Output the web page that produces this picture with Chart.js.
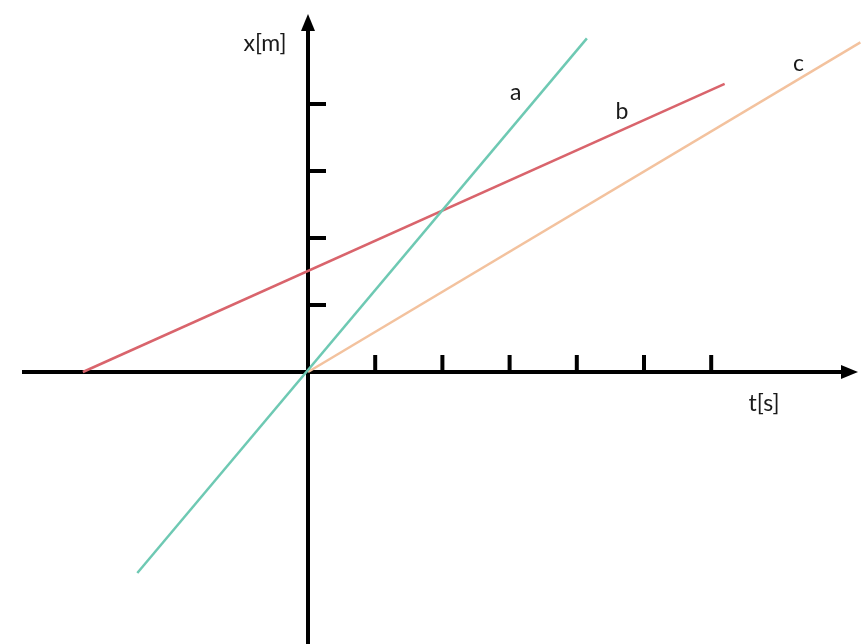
<!DOCTYPE html>
<html>
<head>
<meta charset="utf-8">
<script src="https://cdn.jsdelivr.net/npm/chart.js@4/dist/chart.umd.min.js"></script>
<style>
  html, body { margin: 0; padding: 0; background: #fff; }
  #wrap { width: 861px; height: 644px; position: relative; }
</style>
</head>
<body>
<div id="wrap"><canvas id="motionChart"></canvas></div>
<script>
// line end points, [t, x]
const lineA = [[-2.54, -3.0], [4.15, 4.98]];
const lineB = [[-3.35, 0], [6.2, 4.3]];
const lineC = [[0, 0], [8.22, 4.92]];

const tTicks = [1, 2, 3, 4, 5, 6];
const xTicks = [1, 2, 3, 4];

const lineNames = ['a', 'b', 'c'];
const nameSpots = [[3.09, 4.17], [4.67, 3.89], [7.3, 4.61]];

const toPoints = arr => arr.map(p => ({ x: p[0], y: p[1] }));

const labelFont = '23px Lato, "Open Sans", sans-serif';

const axesPlugin = {
  id: 'axesPlugin',
  beforeDatasetsDraw(chart) {
    const ctx = chart.ctx;
    const sx = chart.scales.x;
    const sy = chart.scales.y;
    const ox = sx.getPixelForValue(0);
    const oy = sy.getPixelForValue(0);

    ctx.save();
    ctx.strokeStyle = '#000';
    ctx.fillStyle = '#000';
    ctx.lineWidth = 4;

    // horizontal axis
    ctx.beginPath();
    ctx.moveTo(22, oy);
    ctx.lineTo(845, oy);
    ctx.stroke();
    ctx.beginPath();
    ctx.moveTo(858, oy);
    ctx.lineTo(841, oy - 7);
    ctx.lineTo(841, oy + 7);
    ctx.closePath();
    ctx.fill();

    // vertical axis
    ctx.beginPath();
    ctx.moveTo(ox, 644);
    ctx.lineTo(ox, 28);
    ctx.stroke();
    ctx.beginPath();
    ctx.moveTo(ox, 14);
    ctx.lineTo(ox - 7, 31);
    ctx.lineTo(ox + 7, 31);
    ctx.closePath();
    ctx.fill();

    // ticks
    tTicks.forEach(t => {
      const px = sx.getPixelForValue(t);
      ctx.beginPath();
      ctx.moveTo(px, oy);
      ctx.lineTo(px, oy - 17);
      ctx.stroke();
    });
    xTicks.forEach(v => {
      const py = sy.getPixelForValue(v);
      ctx.beginPath();
      ctx.moveTo(ox, py);
      ctx.lineTo(ox + 18, py);
      ctx.stroke();
    });

    // axis titles
    ctx.font = labelFont;
    ctx.fillStyle = '#1a1a1a';
    ctx.textAlign = 'center';
    ctx.textBaseline = 'middle';
    ctx.fillText('x[m]', 265, 44);
    ctx.fillText('t[s]', 764, 404);
    ctx.restore();
  },
  afterDatasetsDraw(chart) {
    const ctx = chart.ctx;
    const sx = chart.scales.x;
    const sy = chart.scales.y;
    ctx.save();
    ctx.font = labelFont;
    ctx.fillStyle = '#1a1a1a';
    ctx.textAlign = 'center';
    ctx.textBaseline = 'middle';
    lineNames.forEach((n, i) => {
      ctx.fillText(n, sx.getPixelForValue(nameSpots[i][0]), sy.getPixelForValue(nameSpots[i][1]));
    });
    ctx.restore();
  }
};

new Chart(document.getElementById('motionChart'), {
  type: 'scatter',
  data: {
    datasets: [
      { label: 'a', data: toPoints(lineA), borderColor: '#6ec9b3', showLine: true, borderWidth: 2.5, pointRadius: 0 },
      { label: 'b', data: toPoints(lineB), borderColor: '#d9646c', showLine: true, borderWidth: 2.5, pointRadius: 0 },
      { label: 'c', data: toPoints(lineC), borderColor: '#f3c29e', showLine: true, borderWidth: 2.5, pointRadius: 0 }
    ]
  },
  options: {
    responsive: true,
    maintainAspectRatio: false,
    animation: false,
    layout: { padding: 0 },
    plugins: {
      legend: { display: false },
      tooltip: { enabled: false }
    },
    scales: {
      x: { type: 'linear', display: false, min: -308 / 67.2, max: 553 / 67.2 },
      y: { type: 'linear', display: false, min: -272 / 67, max: 372 / 67 }
    }
  },
  plugins: [axesPlugin]
});
</script>
</body>
</html>
